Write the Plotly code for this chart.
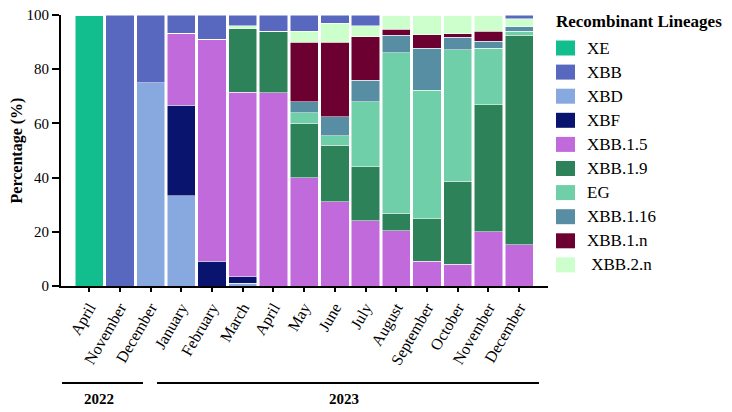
import plotly.graph_objects as go

months = ["April", "November", "December", "January", "February", "March", "April",
          "May", "June", "July", "August", "September", "October", "November", "December"]

# stacking order bottom -> top
stack_names = ["XE", "XBD", "XBF", "XBB.1.5", "XBB.1.9", "EG", "XBB.1.16", "XBB.1.n", "XBB.2.n", "XBB"]

XE = [100, 0, 0, 0, 0, 0, 0, 0, 0, 0, 0, 0, 0, 0, 0]
XBB = [0, 100, 25, 6.7, 9, 4, 6, 6, 3, 4, 0, 0, 0, 0, 1.4]
XBD = [0, 0, 75, 33.3, 0, 1, 0, 0, 0, 0, 0, 0, 0, 0, 0]
XBF = [0, 0, 0, 33.4, 9.2, 2.5, 0, 0, 0, 0, 0, 0, 0, 0, 0]
XBB_1_5 = [0, 0, 0, 26.6, 81.8, 68, 71.3, 40, 31, 24, 20.4, 9.2, 8, 20, 15.3]
XBB_1_9 = [0, 0, 0, 0, 0, 23.5, 22.7, 20, 21, 20, 6.5, 15.6, 30.7, 46.8, 77.3]
EG = [0, 0, 0, 0, 0, 0, 0, 4, 3.5, 24, 59.2, 47.5, 48.4, 20.9, 1.4]
XBB_1_16 = [0, 0, 0, 0, 0, 0, 0, 4, 7, 8, 6.5, 15.4, 4.6, 2.7, 1.6]
XBB_1_n = [0, 0, 0, 0, 0, 0, 0, 22, 27.5, 16, 2.2, 5.1, 1.3, 3.6, 0]
XBB_2_n = [0, 0, 0, 0, 0, 1, 0, 4, 7, 4, 5.2, 7.2, 7, 6, 3]

values = {"XE": XE, "XBB": XBB, "XBD": XBD, "XBF": XBF, "XBB.1.5": XBB_1_5,
          "XBB.1.9": XBB_1_9, "EG": EG, "XBB.1.16": XBB_1_16, "XBB.1.n": XBB_1_n,
          "XBB.2.n": XBB_2_n}

legend_order = ["XE", "XBB", "XBD", "XBF", "XBB.1.5", "XBB.1.9", "EG", "XBB.1.16", "XBB.1.n", "XBB.2.n"]
colors = {"XE": "#12BE8E", "XBB": "#5868BE", "XBD": "#88A8E0", "XBF": "#08146E",
          "XBB.1.5": "#C06ADC", "XBB.1.9": "#2E825A", "EG": "#6ECFA8",
          "XBB.1.16": "#588EA4", "XBB.1.n": "#6C0030", "XBB.2.n": "#CCFFCC"}

years = ["2022", "2023"]

FONT = "Liberation Serif"
x = list(range(len(months)))

fig = go.Figure()
for name in stack_names:
    fig.add_trace(go.Bar(x=x, y=values[name], name=name, width=0.92,
                         marker=dict(color=colors[name], line=dict(color="white", width=0.5)),
                         showlegend=False))

# page places the figure 8px from the window edge; geometry below is in window px
OFF = 8
L, T = 61 - OFF, 15 - OFF
PR, PB = 548 - OFF, 286 - OFF
FW, FH = 732, 412
R, B = FW - PR, FH - PB
W, H = PR - L, PB - T

def px2x(sx):
    return (sx - OFF - L) / W

def py2y(sy):
    return (PB - (sy - OFF)) / H

year_lines = [(62, 143), (157, 539)]
year_label_x = [99, 344]

shapes = []
annotations = []
for (a, b) in year_lines:
    shapes.append(dict(type="line", xref="paper", yref="paper", x0=px2x(a), x1=px2x(b),
                       y0=py2y(383), y1=py2y(383), line=dict(color="black", width=2)))
for yr, c in zip(years, year_label_x):
    annotations.append(dict(text="<b>%s</b>" % yr, xref="paper", yref="paper", x=px2x(c), y=py2y(399),
                            showarrow=False, font=dict(family=FONT, size=15, color="black"),
                            xanchor="center", yanchor="middle"))

# legend
annotations.append(dict(text="<b>Recombinant Lineages</b>", xref="paper", yref="paper",
                        x=px2x(554), y=py2y(21), xanchor="left", yanchor="middle", showarrow=False,
                        font=dict(family=FONT, size=17, color="black")))
for i, name in enumerate(legend_order):
    cy = 48 + i * 24.1
    shapes.append(dict(type="rect", xref="paper", yref="paper",
                       x0=px2x(556), x1=px2x(575), y0=py2y(cy - 7.5), y1=py2y(cy + 7.5),
                       fillcolor=colors[name], line=dict(width=0)))
    annotations.append(dict(text=name if name != "XBB.2.n" else "&nbsp;" + name,
                            xref="paper", yref="paper",
                            x=px2x(585), y=py2y(cy), xanchor="left", yanchor="middle", showarrow=False,
                            font=dict(family=FONT, size=17, color="black")))

fig.update_layout(
    barmode="stack",
    width=FW, height=FH,
    margin=dict(l=L, r=R, t=T, b=B, autoexpand=False),
    plot_bgcolor="white", paper_bgcolor="white",
    font=dict(family=FONT, size=15, color="black"),
    shapes=shapes, annotations=annotations,
    xaxis=dict(tickvals=x, ticktext=months, tickangle=-60, range=[-0.92, 14.94],
               automargin=False, ticklabeloverflow="allow",
               showline=True, linecolor="black", linewidth=2, ticks="outside",
               ticklen=4, tickwidth=1.5, tickcolor="black", showgrid=False, zeroline=False,
               tickfont=dict(family=FONT, size=16)),
    yaxis=dict(range=[0, 100], tickvals=[0, 20, 40, 60, 80, 100], showline=True,
               automargin=False, ticklabeloverflow="allow",
               linecolor="black", linewidth=2, ticks="outside", ticklen=7, tickwidth=1.5,
               tickcolor="black", showgrid=False, zeroline=False,
               tickfont=dict(family=FONT, size=15),
               title=dict(text="<b>Percentage (%)</b>", font=dict(family=FONT, size=16), standoff=6)),
)

fig.write_html("out.html")
